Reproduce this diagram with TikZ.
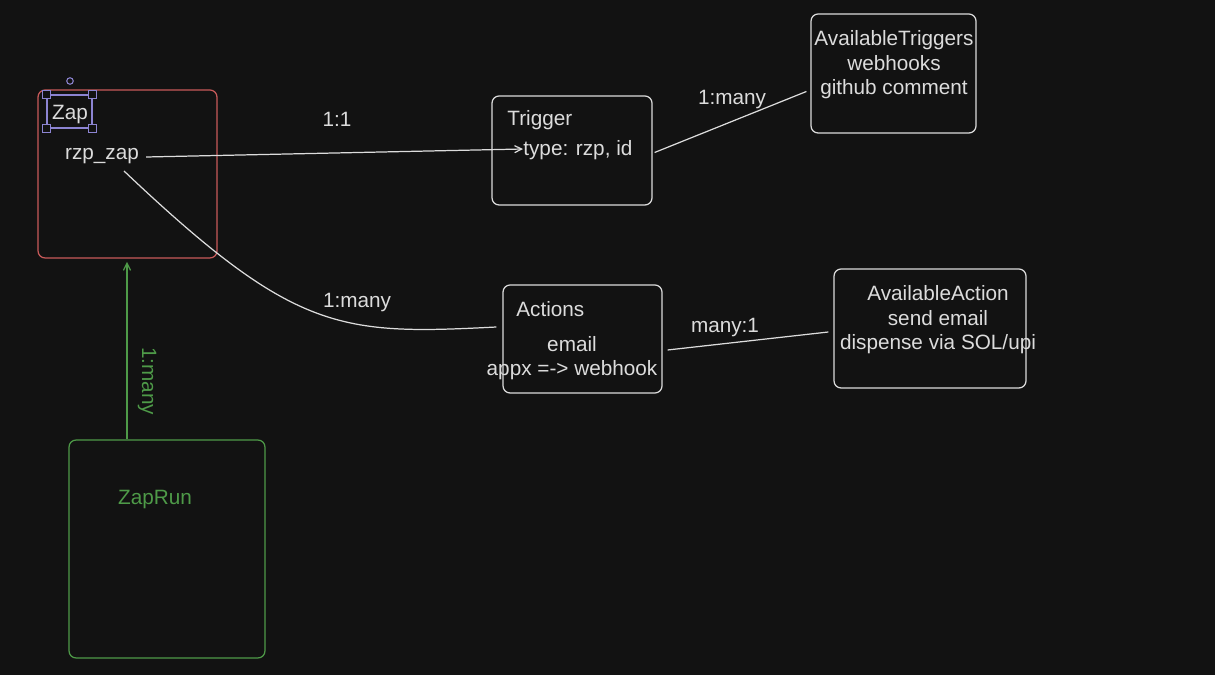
\documentclass[tikz,border=0pt]{standalone}
\usepackage{fontspec}
\setmainfont{Liberation Sans}
\usetikzlibrary{arrows.meta,calc}
\definecolor{bg}{HTML}{121212}
\definecolor{ink}{HTML}{DCDCDC}
\definecolor{zapred}{HTML}{C85A5A}
\definecolor{rungreen}{HTML}{4E9A48}
\definecolor{selpurple}{HTML}{8C84D2}
\tikzset{
  box/.style={draw=ink, line width=0.7pt, rounded corners=4pt, inner sep=0pt},
  txt/.style={text=ink, font=\fontsize{11.8}{14}\selectfont, inner sep=0pt, align=center},
  conn/.style={draw=ink, line width=0.7pt},
  tip/.style={-{Straight Barb[length=4pt,width=4pt]}},
  handle/.style={draw=selpurple, line width=0.6pt, fill=bg, rectangle, minimum size=0.15cm, inner sep=0pt}
}
\begin{document}
\begin{tikzpicture}[x=0.02cm,y=-0.02cm]
\fill[bg] (0,0) rectangle (1215,675);
\useasboundingbox (0,0) rectangle (1215,675);

% boxes
\node[box, draw=zapred, minimum width=3.58cm, minimum height=3.36cm] (zapbox) at (127.5,174) {};
\node[box, minimum width=3.2cm, minimum height=2.18cm] (trigbox) at (572,150.5) {};
\node[box, minimum width=3.3cm, minimum height=2.38cm] (avtbox) at (893.5,73.5) {};
\node[box, minimum width=3.18cm, minimum height=2.16cm] (actbox) at (582.5,339) {};
\node[box, minimum width=3.84cm, minimum height=2.38cm] (avabox) at (930,328.5) {};
\node[box, draw=rungreen, minimum width=3.92cm, minimum height=4.36cm] (runbox) at (167,549) {};

% selection around Zap
\node[draw=selpurple, line width=0.6pt, minimum width=0.9cm, minimum height=0.66cm, inner sep=0pt] (sel) at (69.5,111.5) {};
\foreach \c in {north west,north east,south west,south east}
  \node[handle] (h-\c) at (sel.\c) {};
\node[draw=selpurple, line width=0.6pt, circle, minimum size=0.13cm, inner sep=0pt] (rot) at (70,81) {};

% texts
\node[txt] (zap) at (70,114.5) {Zap};
\node[txt] (rzp) at (102,156) {rzp\_zap};
\node[txt, anchor=west] (trig) at (507,120) {Trigger};
\node[txt, anchor=west] (type) at (523,150) {type: rzp, id};
\node[txt] (avt) at (894,65) {AvailableTriggers\\webhooks\\github comment};
\node[txt, anchor=west] (act) at (516,309) {Actions};
\node[txt] (actitems) at (572,358) {email\\appx =-> webhook};
\node[txt] (ava) at (938,320) {AvailableAction\\send email\\dispense via SOL/upi};
\node[txt, text=rungreen] (zaprun) at (155,500) {ZapRun};

% labels
\node[txt] (l11) at (337,119) {1:1};
\node[txt] (l1m) at (732,100) {1:many};
\node[txt] (l1ma) at (357,303) {1:many};
\node[txt] (lm1) at (725,328) {many:1};
\node[txt, text=rungreen, rotate=-90] (lrun) at (147,381) {1:many};

% connectors
\coordinate (rzpout) at ($(rzp.east)+(7,1)$);
\draw[conn, tip] (rzpout) -- ($(type.west)+(0,-1)$);
\draw[conn] ($(trigbox.east)+(2,2)$) -- ($(avtbox.west)+(-4,18)$);
\coordinate (rzpdown) at (124,171);
\draw[conn] (rzpdown) .. controls (295,333) and (340,335) .. ($(actbox.west)+(-6,-12)$);
\draw[conn] ($(actbox.east)+(5,11)$) -- ($(avabox.west)+(-5,3.5)$);
\draw[draw=rungreen, line width=0.7pt, tip] (runbox.north -| 127,0) -- (127,262);
\end{tikzpicture}
\end{document}
